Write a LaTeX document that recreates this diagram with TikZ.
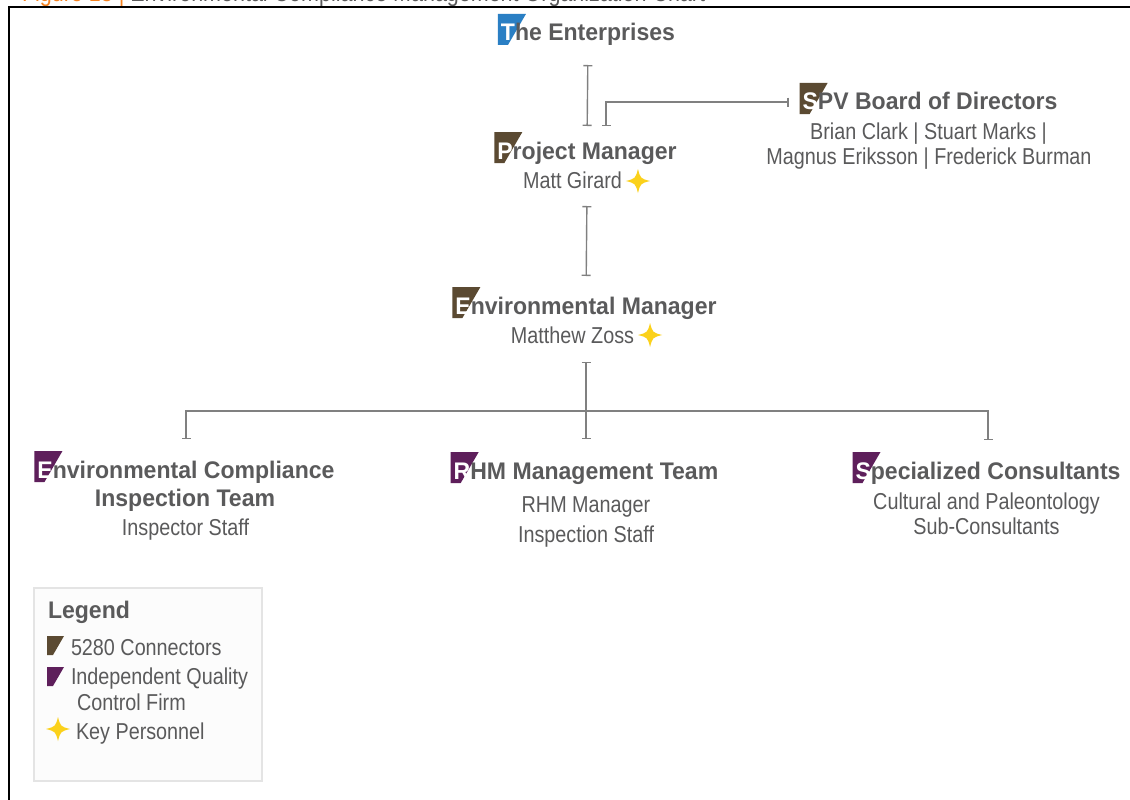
\documentclass[tikz,border=0pt]{standalone}
\usepackage{fontspec}
\setmainfont{Liberation Sans}[FakeStretch=0.86]
\newfontfamily\headfont{Liberation Sans}[FakeStretch=0.96]
\usetikzlibrary{arrows.meta,calc,backgrounds}
\definecolor{txt}{HTML}{5A5A5B}
\definecolor{linec}{HTML}{808080}
\definecolor{brownc}{HTML}{5B4A32}
\definecolor{purplec}{HTML}{5E1F5B}
\definecolor{bluec}{HTML}{2A7FC4}
\definecolor{stary}{HTML}{FBD11B}
\definecolor{capor}{HTML}{F58220}
\definecolor{legbd}{HTML}{E4E4E4}
\definecolor{legfill}{HTML}{FCFCFC}
\newcommand\mkr[2]{\fill[#1] ($(#2.base west)+(-3,-27)$) -- ($(#2.base west)+(25,-27)$) -- ($(#2.base west)+(7,4)$) -- ($(#2.base west)+(-3,4)$) -- cycle;}
\newcommand\kstar[1]{\fill[stary, shift={#1}] (0,-12) .. controls (2.5,-2.5) .. (12,0) .. controls (2.5,2.5) .. (0,12) .. controls (-2.5,2.5) .. (-12,0) .. controls (-2.5,-2.5) .. (0,-12) -- cycle;}
\begin{document}
\begin{tikzpicture}[x=1pt,y=-1pt,
  every node/.style={inner sep=0pt, outer sep=0pt, text=txt, anchor=base,
    font=\fontsize{23}{27}\selectfont, text height=17pt, text depth=5pt},
  head/.style={font=\headfont\bfseries\fontsize{24}{28}\selectfont},
  conn/.style={draw=linec, line width=1.4pt},
  tee/.style={conn, {Bar[width=9pt,line width=1.4pt]}-{Bar[width=9pt,line width=1.4pt]}},
  teeend/.style={conn, -{Bar[width=9pt,line width=1.4pt]}}
]
\useasboundingbox (0,0) rectangle (1130,800);
\clip (0,0) rectangle (1130,800);
\begin{pgfonlayer}{background}
\fill[white] (0,0) rectangle (1130,800);
\end{pgfonlayer}
% caption (cut off at top, as in the reference)
\node[anchor=base west, font=\fontsize{25}{30}\selectfont] (cap) at (22,2)
  {\textcolor{capor}{Figure 13 |} Environmental Compliance Management Organization Chart};
% frame
\draw[black, line width=2pt] (1130,7) -- (9,7) -- (9,800);
% legend box
\draw[draw=legbd, fill=legfill, line width=2pt] (34,588) rectangle (262,781);

% headings and names
\node[head] (ent) at (588,41) {\textcolor{white}{T}he Enterprises};
\node[head] (pm) at (587,159) {\textcolor{white}{P}roject Manager};
\node (pmn) at (572.5,188) {Matt Girard};
\node[head] (spv) at (930,110) {\textcolor{white}{S}PV Board of Directors};
\node (spv1) at (928.5,139) {Brian Clark | Stuart Marks |};
\node (spv2) at (929,164) {Magnus Eriksson | Frederick Burman};
\node[head] (em) at (586,314) {\textcolor{white}{E}nvironmental Manager};
\node (emn) at (572.5,343) {Matthew Zoss};
\node[head] (eci) at (186,478) {\textcolor{white}{E}nvironmental Compliance};
\node[head] (eci2) at (185,506) {Inspection Team};
\node (eci3) at (185.5,535) {Inspector Staff};
\node[head] (rhm) at (586,479) {\textcolor{white}{R}HM Management Team};
\node (rhm2) at (586,512) {RHM Manager};
\node (rhm3) at (586,542) {Inspection Staff};
\node[head] (sc) at (988,479) {\textcolor{white}{S}pecialized Consultants};
\node (sc2) at (986.5,509) {Cultural and Paleontology};
\node (sc3) at (986.5,534) {Sub-Consultants};

% legend
\node[head, anchor=base west] (leg) at (48,618) {Legend};
\node[anchor=base west] (leg1) at (71,655) {5280 Connectors};
\node[anchor=base west] (leg2) at (71,684) {Independent Quality};
\node[anchor=base west] (leg3) at (77,710) {Control Firm};
\node[anchor=base west] (leg4) at (76,739) {Key Personnel};
\fill[brownc] (47,636) -- (64,636) -- (53,655) -- (47,655) -- cycle;
\fill[purplec] (47,667) -- (64,667) -- (53,686) -- (47,686) -- cycle;
\kstar{(58,729)}

% stars
\kstar{($(pmn.base east)+(16,-7)$)}
\kstar{($(emn.base east)+(16,-8)$)}

% markers behind first letters
\begin{pgfonlayer}{background}
\mkr{bluec}{ent}
\mkr{brownc}{pm}
\mkr{brownc}{spv}
\mkr{brownc}{em}
\mkr{purplec}{eci}
\mkr{purplec}{rhm}
\mkr{purplec}{sc}
\end{pgfonlayer}

% connectors
\draw[tee, shorten <=19pt, shorten >=16pt] (ent.south) -- (pm.north);
\draw[tee, shorten <=14pt, shorten >=16pt] ($(spv.west)+(0,-2)$) -| ($(pm.north)+(19,0)$);
\draw[tee, shorten <=13pt, shorten >=21pt] (pmn.south -| pm.south) -- (em.north);
\draw[tee, shorten <=14pt, shorten >=23pt] (emn.south -| em.south) -- (rhm.north);
\coordinate (bus) at (586,411);
\draw[teeend, shorten >=22pt] (bus) -| (eci.north);
\draw[teeend, shorten >=22pt] (bus) -| (sc.north);
\end{tikzpicture}
\end{document}
